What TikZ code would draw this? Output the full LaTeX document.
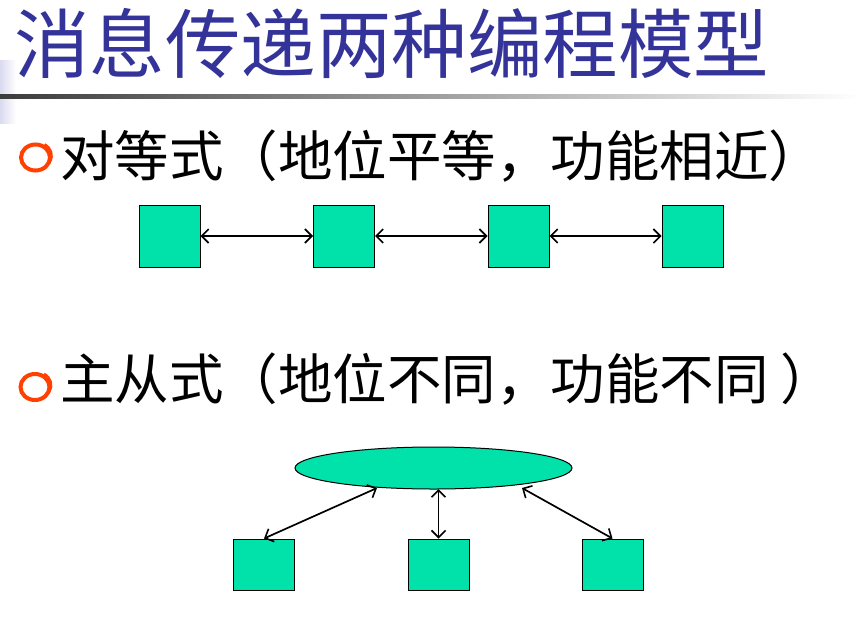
\documentclass[tikz,border=0pt]{standalone}
\usepackage{fontspec}
\newfontfamily\cjk{Noto Sans CJK SC}
\usetikzlibrary{arrows.meta,shapes.geometric}
\definecolor{titleblue}{RGB}{51,51,153}
\definecolor{boxgreen}{RGB}{0,226,170}
\definecolor{bulletred}{RGB}{255,64,0}
\definecolor{lav}{RGB}{218,218,240}
\definecolor{rulegray}{RGB}{60,60,60}
\tikzset{
  titletext/.style={font=\cjk\fontsize{75.5}{75.5}\selectfont, text=titleblue, inner sep=0pt, anchor=base west},
  bodytext/.style={font=\cjk\fontsize{54.5}{54.5}\selectfont, text=black, inner sep=0pt, anchor=base west},
  bulletring/.style={ellipse, draw=bulletred, line width=4pt, minimum width=29pt, minimum height=26pt, inner sep=0pt},
  sqbox/.style={draw=black, fill=boxgreen, minimum width=61pt, minimum height=62pt, inner sep=0pt, line width=1pt},
  sqboxlow/.style={sqbox, minimum height=51pt},
  ellbox/.style={ellipse, draw=black, fill=boxgreen, minimum width=277pt, minimum height=42pt, inner sep=0pt, line width=1pt},
  conn/.style={{Straight Barb[length=7pt,width=14pt,line width=1.6pt]}-{Straight Barb[length=7pt,width=14pt,line width=1.6pt]}, line width=1.7pt, black}
}
\begin{document}
\begin{tikzpicture}[x=1pt,y=-1pt]
\useasboundingbox (0,0) rectangle (861,621);
\fill[white] (0,0) rectangle (861,621);
% left gradient bar and rule under title
\fill[left color=lav, right color=white] (0,60) rectangle (16,123);
\fill[left color=rulegray, right color=white] (0,94) rectangle (861,98);
% title
\node[titletext] (title) at (14,72) {消息传递两种编程模型};
% bullets and texts
\node[bulletring] (bul1) at (35.5,157.5) {};
\draw[bulletred, line width=2pt] ([xshift=1.5pt]bul1.60) arc[start angle=60, end angle=-60, x radius=14.5pt, y radius=13pt];
\node[bodytext] (t1) at (60,176) {对等式（地位平等，功能相近）};
\node[bulletring] (bul2) at (35,387) {};
\draw[bulletred, line width=2pt] ([xshift=1.5pt]bul2.60) arc[start angle=60, end angle=-60, x radius=14.5pt, y radius=13pt];
\node[bodytext] (t2) at (60,399) {主从式（地位不同，功能不同 ）};
% peer row
\node[sqbox] (p1) at (169.5,236) {};
\node[sqbox] (p2) at (344,236) {};
\node[sqbox] (p3) at (518.5,236) {};
\node[sqbox] (p4) at (692.5,236) {};
\draw[conn] (p1.east) -- (p2.west);
\draw[conn] (p2.east) -- (p3.west);
\draw[conn] (p3.east) -- (p4.west);
% master-slave
\node[ellbox] (m) at (433.5,468) {};
\node[sqboxlow] (s1) at (264,564.5) {};
\node[sqboxlow] (s2) at (438.5,564.5) {};
\node[sqboxlow] (s3) at (612.5,564.5) {};
\coordinate (mL) at (377,488);
\coordinate (mM) at (438.5,489);
\coordinate (mR) at (522,488);
\draw[conn] (mL) -- (s1.north);
\draw[conn] (mM) -- (s2.north);
\draw[conn] (mR) -- (s3.north);
\end{tikzpicture}
\end{document}
